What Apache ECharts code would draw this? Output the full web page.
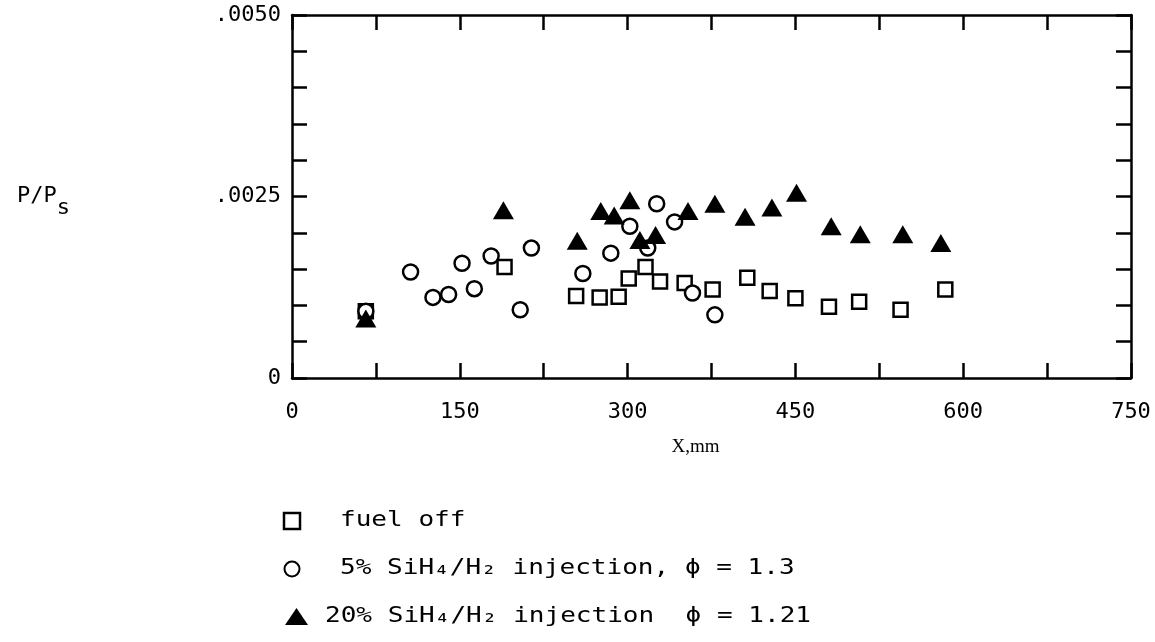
<!DOCTYPE html>
<html>
<head>
<meta charset="utf-8">
<script src="https://cdn.jsdelivr.net/npm/echarts@6/dist/echarts.min.js"></script>
<style>
  html, body { margin: 0; padding: 0; background: #fff; }
</style>
</head>
<body>
<div id="main" style="width: 1155px; height: 642px;"></div>
<script>
// fuel off (open squares)
const fuelOffX = [66, 190, 254, 275, 292, 301, 316, 329, 351, 376, 407, 427, 450, 480, 507, 544, 584];
const fuelOffY = [0.00092, 0.00153, 0.00113, 0.00111, 0.00112, 0.00137, 0.00153, 0.00133, 0.00131, 0.00122, 0.00138, 0.00120, 0.00110, 0.00098, 0.00105, 0.00094, 0.00122];

// 5% SiH4/H2 injection (open circles)
const sih5X = [66, 106, 126, 140, 152, 163, 178, 204, 214, 260, 285, 302, 318, 326, 342, 358, 378];
const sih5Y = [0.00092, 0.00146, 0.00111, 0.00115, 0.00158, 0.00123, 0.00168, 0.00094, 0.00179, 0.00144, 0.00172, 0.00209, 0.00179, 0.00240, 0.00215, 0.00117, 0.00087];

// 20% SiH4/H2 injection (filled triangles)
const sih20X = [66, 189, 255, 276, 288, 302, 311, 325, 354, 378, 405, 429, 451, 482, 508, 546, 580];
const sih20Y = [0.00082, 0.00231, 0.00189, 0.00230, 0.00224, 0.00245, 0.00190, 0.00197, 0.00230, 0.00240, 0.00222, 0.00235, 0.00255, 0.00209, 0.00198, 0.00198, 0.00186];

// tick labels
const xLabelValues = [0, 150, 300, 450, 600, 750];
const yLabelValues = [0, 0.0025, 0.005];
const yLabelTexts = ['0', '.0025', '.0050'];

const legendNames = ['fuel off', '5% SiH₄/H₂ injection, ϕ = 1.3', '20% SiH₄/H₂ injection  ϕ = 1.21'];

const pairs = (xs, ys) => xs.map((x, i) => [x, ys[i]]);

const myChart = echarts.init(document.getElementById('main'));

const monoFont = 'DejaVu Sans Mono';
const lineW = 2.5;

const xLabelFmt = (v) => xLabelValues.indexOf(Math.round(v)) >= 0 ? String(Math.round(v)) : '';
const yLabelFmt = (v) => {
    for (let i = 0; i < yLabelValues.length; i++) {
        if (Math.abs(v - yLabelValues[i]) < 1e-9) return yLabelTexts[i];
    }
    return '';
};

const baseAxis = {
    axisLine: { show: true, onZero: false, lineStyle: { color: '#000', width: lineW } },
    axisTick: { show: true, inside: true, length: 15, lineStyle: { color: '#000', width: lineW } },
    splitLine: { show: false }
};

const legendText = (x, y, text) => ({
    type: 'text', x: x, y: y, scaleX: 1.24,
    style: { text: text, fontFamily: monoFont, fontSize: 21, fill: '#000', verticalAlign: 'middle' }
});

let option = {
    backgroundColor: '#fff',
    animation: false,
    grid: { left: 292, right: 24, top: 15, bottom: 264 },
    xAxis: [
        Object.assign({}, baseAxis, {
            type: 'value', position: 'bottom', min: 0, max: 750, interval: 75,
            name: 'X,mm', nameLocation: 'middle', nameGap: 60,
            nameTextStyle: { fontFamily: 'Liberation Serif', fontSize: 19, color: '#000', padding: [0, 32, 0, 0] },
            axisLabel: { formatter: xLabelFmt, margin: 23, fontFamily: monoFont, fontSize: 22, color: '#000' }
        }),
        Object.assign({}, baseAxis, {
            type: 'value', position: 'top', min: 0, max: 750, interval: 75,
            axisLabel: { show: false }
        })
    ],
    yAxis: [
        Object.assign({}, baseAxis, {
            type: 'value', position: 'left', min: 0, max: 0.005, interval: 0.0005,
            name: '{a|P/P}{s|s}', nameLocation: 'middle', nameRotate: 0, nameGap: 222,
            nameTextStyle: {
                rich: {
                    a: { fontFamily: monoFont, fontSize: 22, color: '#000' },
                    s: { fontFamily: monoFont, fontSize: 22, color: '#000', padding: [24, 0, 0, 0] }
                }
            },
            axisLabel: { formatter: yLabelFmt, margin: 11, fontFamily: monoFont, fontSize: 22, color: '#000' }
        }),
        Object.assign({}, baseAxis, {
            type: 'value', position: 'right', min: 0, max: 0.005, interval: 0.0005,
            axisLabel: { show: false }
        })
    ],
    series: [
        {
            name: legendNames[0], type: 'scatter', symbol: 'rect', symbolSize: 14,
            itemStyle: { color: '#fff', borderColor: '#000', borderWidth: lineW, opacity: 1 },
            data: pairs(fuelOffX, fuelOffY)
        },
        {
            name: legendNames[1], type: 'scatter', symbol: 'circle', symbolSize: 15,
            itemStyle: { color: '#fff', borderColor: '#000', borderWidth: lineW, opacity: 1 },
            data: pairs(sih5X, sih5Y)
        },
        {
            name: legendNames[2], type: 'scatter', symbol: 'triangle', symbolSize: [21, 18],
            itemStyle: { color: '#000', opacity: 1 },
            data: pairs(sih20X, sih20Y)
        }
    ],
    // 图例（手工排版，保持打字机风格的字距）
    graphic: [
        { type: 'rect', shape: { x: 284, y: 513, width: 16, height: 16 }, style: { fill: '#fff', stroke: '#000', lineWidth: lineW } },
        { type: 'circle', shape: { cx: 292, cy: 569, r: 7.5 }, style: { fill: '#fff', stroke: '#000', lineWidth: 2 } },
        { type: 'polygon', shape: { points: [[285, 625], [308, 625], [296.5, 608]] }, style: { fill: '#000' } },
        legendText(340, 521, legendNames[0]),
        legendText(340, 569, legendNames[1]),
        legendText(325, 617, legendNames[2])
    ]
};

myChart.setOption(option);
</script>
</body>
</html>
